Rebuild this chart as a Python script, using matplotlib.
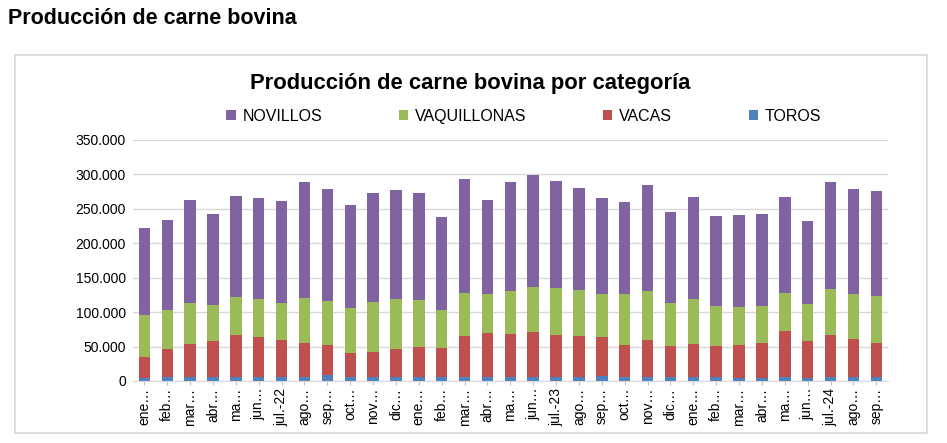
import numpy as np
import matplotlib.pyplot as plt
from matplotlib.patches import Rectangle
from matplotlib.ticker import FuncFormatter

plt.rcParams['font.family'] = ['Liberation Sans', 'DejaVu Sans']

meses = ["ene…", "feb…", "mar…", "abr…", "ma…", "jun…", "jul.-22", "ago…", "sep…", "oct…", "nov…", "dic…",
         "ene…", "feb…", "mar…", "abr…", "ma…", "jun…", "jul.-23", "ago…", "sep…", "oct…", "nov…", "dic…",
         "ene…", "feb…", "mar…", "abr…", "ma…", "jun…", "jul.-24", "ago…", "sep…"]

# miles de toneladas
toros = [4.5, 5.8, 6.0, 5.3, 5.8, 6.0, 6.0, 6.0, 8.0, 5.8, 5.8, 5.8,
         5.8, 5.3, 6.3, 5.8, 5.8, 6.3, 6.3, 6.3, 7.7, 6.3, 6.3, 5.8,
         5.8, 5.3, 5.0, 5.0, 5.8, 5.0, 6.3, 6.3, 6.3]
vacas = [30.8, 40.6, 48.0, 53.1, 60.9, 57.8, 53.4, 49.0, 44.2, 34.8, 36.2, 40.6,
         43.5, 42.0, 59.4, 63.8, 62.3, 64.7, 60.4, 58.9, 56.1, 45.9, 52.6, 44.4,
         47.3, 45.4, 46.7, 49.6, 66.2, 53.0, 60.4, 54.1, 48.3]
vaquillonas = [59.9, 56.0, 59.5, 51.6, 55.0, 55.5, 54.1, 65.8, 63.8, 66.1, 72.0, 72.4,
               68.1, 55.1, 62.3, 56.4, 63.3, 65.7, 69.0, 67.1, 63.2, 74.8, 72.5, 63.3,
               65.7, 57.5, 55.5, 55.0, 56.0, 54.0, 67.1, 66.6, 68.1]
novillos = [127.5, 131.6, 149.3, 132.5, 146.8, 146.7, 147.8, 168.5, 162.2, 148.8, 158.4, 158.4,
            155.5, 136.2, 165.7, 137.2, 157.9, 161.8, 155.1, 147.4, 139.1, 132.9, 153.6, 131.4,
            148.8, 131.4, 133.3, 133.4, 139.1, 120.8, 155.5, 152.2, 152.6]

toros = np.array(toros) * 1000
vacas = np.array(vacas) * 1000
vaquillonas = np.array(vaquillonas) * 1000
novillos = np.array(novillos) * 1000

c_nov = '#8064A2'
c_vaq = '#9BBB59'
c_vac = '#C0504D'
c_tor = '#4F81BD'

fig = plt.figure(figsize=(9.47, 4.43), dpi=100)
fig.text(0.008, 0.958, "Producción de carne bovina", fontsize=15.5, fontweight='bold', va='center')
fig.patches.append(Rectangle((0.0158, 0.0226), 0.963, 0.853, transform=fig.transFigure,
                             fill=False, edgecolor='#D9D9D9', linewidth=1.2))
fig.text(0.497, 0.812, "Producción de carne bovina por categoría", fontsize=15.8,
         fontweight='bold', ha='center', va='center')

ax = fig.add_axes([0.1404, 0.140, 0.797, 0.544])
x = np.arange(len(meses))
w = 0.5
b1 = ax.bar(x, toros, w, color=c_tor, label='TOROS')
b2 = ax.bar(x, vacas, w, bottom=toros, color=c_vac, label='VACAS')
b3 = ax.bar(x, vaquillonas, w, bottom=toros + vacas, color=c_vaq, label='VAQUILLONAS')
b4 = ax.bar(x, novillos, w, bottom=toros + vacas + vaquillonas, color=c_nov, label='NOVILLOS')

ax.set_xlim(-0.5, len(meses) - 0.5)
ax.set_ylim(0, 350000)
ax.set_yticks(np.arange(0, 350001, 50000))
ax.yaxis.set_major_formatter(FuncFormatter(lambda v, p: f"{int(v):,}".replace(",", ".")))
ax.set_xticks(x)
ax.set_xticklabels(meses, rotation=90, fontsize=10)
ax.tick_params(axis='y', length=0, labelsize=10, pad=5)
ax.tick_params(axis='x', length=3, color='#BFBFBF', pad=2)
ax.grid(axis='y', color='#D9D9D9', linewidth=1)
ax.set_axisbelow(True)
for s in ['top', 'right', 'left']:
    ax.spines[s].set_visible(False)
ax.spines['bottom'].set_color('#D9D9D9')

fig.legend([b4, b3, b2, b1], ['NOVILLOS', 'VAQUILLONAS', 'VACAS', 'TOROS'],
           loc='center', bbox_to_anchor=(0.553, 0.738), ncol=4, frameon=False,
           fontsize=11.5, handlelength=0.6, handleheight=0.6, handletextpad=0.4,
           columnspacing=4.8)

fig.savefig('out.png', dpi=100)
